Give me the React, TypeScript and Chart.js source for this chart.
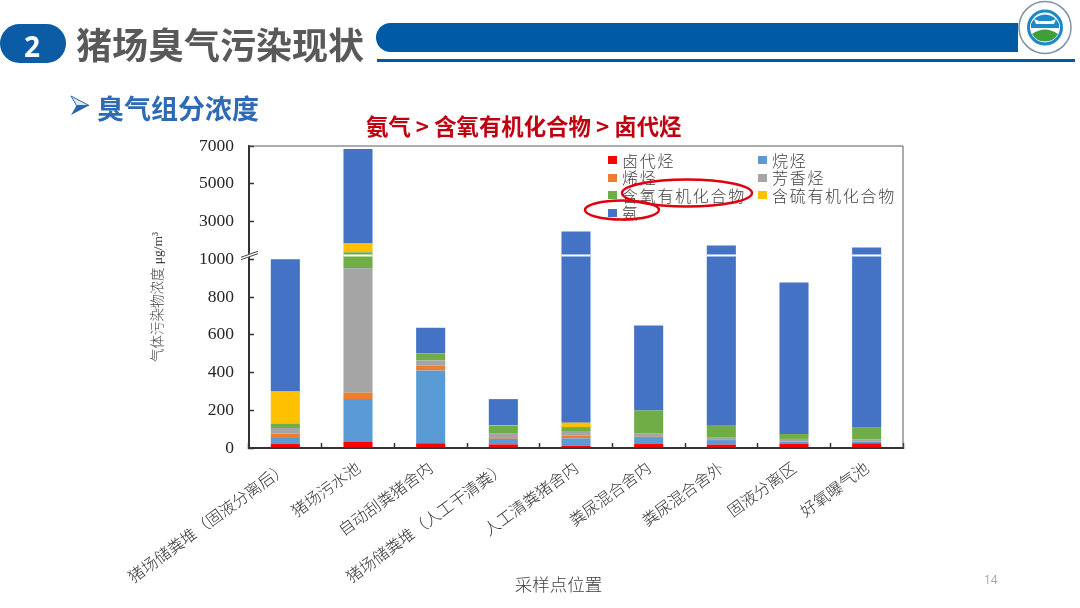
import { useEffect, useRef } from 'react';
import { Chart, LinearScale, registerables } from 'chart.js';

const categories = [
  '猪场储粪堆（固液分离后）',
  '猪场污水池',
  '自动刮粪猪舍内',
  '猪场储粪堆（人工干清粪）',
  '人工清粪猪舍内',
  '粪尿混合舍内',
  '粪尿混合舍外',
  '固液分离区',
  '好氧曝气池',
];

const halogenated = [21, 32, 25, 19, 12, 21, 18, 23, 25];
const alkanes = [32, 227, 386, 30, 39, 37, 24, 10, 7];
const alkenes = [23, 34, 25, 4, 14, 1, 1, 1, 1];
const aromatics = [30, 659, 28, 26, 25, 17, 15, 14, 13];
const oxygenated = [23, 418, 37, 39, 21, 123, 64, 26, 65];
const sulfurous = [171, 459, 0, 2, 23, 0, 0, 0, 0];
const ammonia = [700, 5009, 136, 139, 2330, 450, 1601, 803, 1506];

const seriesNames = ['卤代烃', '烷烃', '烯烃', '芳香烃', '含氧有机化合物', '含硫有机化合物', '氨'];
const seriesValues = [halogenated, alkanes, alkenes, aromatics, oxygenated, sulfurous, ammonia];
const seriesColors = ['#FF0000', '#5B9BD5', '#ED7D31', '#A5A5A5', '#70AD47', '#FFC000', '#4472C4'];

const yTicks = [0, 200, 400, 600, 800, 1000, 3000, 5000, 7000];

const AXIS_KNEE = 1000;
const UPPER_COMPRESSION = 10;
const BREAK_VALUE = 1200;

const CJK = '"Noto Sans CJK SC", sans-serif';
const SERIF_CJK = '"Liberation Serif", "Noto Sans CJK SC", serif';

// linear up to the knee, then 10x compressed, like the cut axis in the slide
class BrokenScale extends LinearScale {
  static id = 'broken';
  static defaults = LinearScale.defaults;

  buildTicks() {
    super.buildTicks();
    return yTicks.map(value => ({ value }));
  }

  compress(v: number) {
    return v <= AXIS_KNEE ? v : AXIS_KNEE + (v - AXIS_KNEE) / UPPER_COMPRESSION;
  }

  getPixelForValue(v: number) {
    const frac = this.compress(v) / this.compress(this.max);
    return this.bottom - frac * (this.bottom - this.top);
  }

  getValueForPixel(px: number) {
    const c = ((this.bottom - px) / (this.bottom - this.top)) * this.compress(this.max);
    return c <= AXIS_KNEE ? c : AXIS_KNEE + (c - AXIS_KNEE) * UPPER_COMPRESSION;
  }
}

Chart.register(...registerables, BrokenScale);

const framePlugin = {
  id: 'frame',
  beforeDatasetsDraw(chart: Chart) {
    const { ctx, chartArea: a } = chart;
    ctx.save();
    ctx.strokeStyle = '#595959';
    ctx.lineWidth = 1;
    ctx.beginPath();
    ctx.moveTo(a.left, a.top);
    ctx.lineTo(a.right, a.top);
    ctx.lineTo(a.right, a.bottom);
    ctx.stroke();
    ctx.restore();
  },
};

const axisBreakPlugin = {
  id: 'axisBreak',
  afterDatasetsDraw(chart: Chart) {
    const { ctx, chartArea: a } = chart;
    const y = chart.scales.y.getPixelForValue(BREAK_VALUE);
    const meta = chart.getDatasetMeta(seriesValues.length - 1);
    ctx.save();
    ctx.strokeStyle = '#fff';
    ctx.lineWidth = 2;
    categories.forEach((_, i) => {
      const total = seriesValues.reduce((sum, s) => sum + s[i], 0);
      if (total <= BREAK_VALUE) return;
      const bar = meta.data[i] as any;
      ctx.beginPath();
      ctx.moveTo(bar.x - bar.width / 2, y);
      ctx.lineTo(bar.x + bar.width / 2, y);
      ctx.stroke();
    });
    // cut mark on the value axis
    ctx.lineWidth = 3;
    ctx.beginPath();
    ctx.moveTo(a.left - 3, y + 1);
    ctx.lineTo(a.left + 3, y - 1);
    ctx.stroke();
    ctx.strokeStyle = '#404040';
    ctx.lineWidth = 1;
    [-1.2, 1.2].forEach(d => {
      ctx.beginPath();
      ctx.moveTo(a.left - 8, y + 3 + d);
      ctx.lineTo(a.left + 9, y - 3 + d);
      ctx.stroke();
    });
    ctx.restore();
  },
};

function StackedChart() {
  const canvasRef = useRef<HTMLCanvasElement>(null);

  useEffect(() => {
    if (!canvasRef.current) return;
    const chart = new Chart(canvasRef.current, {
      type: 'bar',
      data: {
        labels: categories,
        datasets: seriesNames.map((name, i) => ({
          label: name,
          data: seriesValues[i],
          backgroundColor: seriesColors[i],
          barPercentage: 1,
          categoryPercentage: 0.4,
        })),
      },
      options: {
        responsive: false,
        animation: false,
        layout: { padding: { left: 0, top: 146, right: 177, bottom: 0 } },
        plugins: { legend: { display: false }, tooltip: { enabled: false } },
        scales: {
          x: {
            stacked: true,
            afterFit: (s: any) => { s.height = 160; },
            grid: { drawOnChartArea: false, tickLength: -5, tickColor: '#333', tickWidth: 1.5 },
            border: { color: '#333', width: 2 },
            ticks: {
              autoSkip: false,
              minRotation: 36,
              maxRotation: 36,
              padding: 15,
              color: '#333',
              font: { family: CJK, size: 16, weight: '300' },
            },
            title: {
              display: true,
              // the slide's axis title sits left of the plot centre
              text: '采样点位置\u3000\u3000',
              color: '#404040',
              padding: { top: 0, bottom: 13 },
              font: { family: CJK, size: 17.5, weight: '300' },
            },
          },
          y: {
            type: 'broken',
            stacked: true,
            min: 0,
            max: 7000,
            afterFit: (s: any) => { s.width = 249; },
            grid: { drawOnChartArea: false, tickLength: -5, tickColor: '#333', tickWidth: 1.5 },
            border: { color: '#333', width: 2 },
            ticks: {
              autoSkip: false,
              padding: 20,
              color: '#262626',
              font: { family: '"Liberation Serif", serif', size: 17.5 },
              callback: (v: any) => String(v),
            },
            title: {
              display: true,
              text: '气体污染物浓度 μg/m³',
              color: '#404040',
              padding: { top: 150, bottom: 0 },
              font: { family: SERIF_CJK, size: 13.5, weight: '300' },
            },
          },
        },
      } as any,
      plugins: [framePlugin, axisBreakPlugin],
    });
    return () => chart.destroy();
  }, []);

  return <canvas ref={canvasRef} width={1080} height={608} style={{ position: 'absolute', left: 0, top: 0 }} />;
}

function Legend() {
  return (
    <div style={{ position: 'absolute', left: 608, top: 151.5, display: 'grid', gridTemplateColumns: '150px 150px', gridAutoRows: '17.5px' }}>
      {seriesNames.map((name, i) => (
        <div key={name} style={{ display: 'flex', alignItems: 'center', whiteSpace: 'nowrap', fontFamily: CJK, fontWeight: 300, fontSize: 16, letterSpacing: 1.7, color: '#404040', lineHeight: '17px' }}>
          <span style={{ width: 9, height: 8, background: seriesColors[i], marginRight: 5, flex: 'none' }} />
          {name}
        </div>
      ))}
    </div>
  );
}

function SlideChrome() {
  const blue = '#005BA4';
  return (
    <>
      <div style={{ position: 'absolute', left: 0, top: 24, width: 66, height: 39, borderRadius: 19.5, background: '#0B5CA5' }} />
      <div style={{ position: 'absolute', left: 21, top: 24, width: 22, textAlign: 'center', lineHeight: '44px', color: '#fff', fontFamily: '"Open Sans", sans-serif', fontWeight: 700, fontSize: 28 }}>2</div>
      <div style={{ position: 'absolute', left: 76, top: 21, lineHeight: '44px', fontFamily: CJK, fontWeight: 700, fontSize: 36, color: '#595959', whiteSpace: 'nowrap' }}>猪场臭气污染现状</div>
      <div style={{ position: 'absolute', left: 376, top: 23, width: 642, height: 29, borderRadius: '14.5px 0 0 14.5px', background: blue }} />
      <div style={{ position: 'absolute', left: 377, top: 59, width: 698, height: 3, background: blue }} />
      <svg width={1080} height={130} style={{ position: 'absolute', left: 0, top: 0 }}>
        <circle cx={1045} cy={27.5} r={26} fill="#fff" stroke="#7C93A8" strokeWidth={1.5} />
        <circle cx={1045} cy={27.5} r={16.5} fill="#fff" stroke="#1C8AC9" strokeWidth={3} />
        <path d="M1031 24 A15 15 0 0 1 1059 24 L1059 28 L1031 28 Z" fill="#1C8AC9" />
        <path d="M1036 24 L1054 24 L1056 19 L1051 21 L1039 21 L1034 19 Z" fill="#fff" />
        <path d="M1032 34 Q1045 25 1058 34 A15 15 0 0 1 1032 34 Z" fill="#3E9E3A" />
        <path d="M71 96 L89 105.5 L76.5 105.5 Z" fill="#DCE7F4" stroke="#2A66AD" strokeWidth={1} />
        <path d="M71 115 L89 105.5 L76.5 105.5 Z" fill="#2A66AD" />
      </svg>
      <div style={{ position: 'absolute', left: 97, top: 92, lineHeight: '32px', fontFamily: CJK, fontWeight: 700, fontSize: 27, color: '#2E6BB4', whiteSpace: 'nowrap' }}>臭气组分浓度</div>
      <div style={{ position: 'absolute', left: 366, top: 110, lineHeight: '30px', fontFamily: CJK, fontWeight: 700, fontSize: 22.4, color: '#C00010', whiteSpace: 'nowrap' }}>氨气 &gt; 含氧有机化合物 &gt; 卤代烃</div>
      <div style={{ position: 'absolute', left: 984, top: 572, lineHeight: '16px', fontFamily: '"Open Sans", sans-serif', fontSize: 12, color: '#A6A6A6' }}>14</div>
    </>
  );
}

export default function App() {
  return (
    <div style={{ position: 'absolute', left: 0, top: 0, width: 1080, height: 608, overflow: 'hidden', background: '#fff' }}>
      <StackedChart />
      <SlideChrome />
      <Legend />
      <svg width={1080} height={608} style={{ position: 'absolute', left: 0, top: 0, pointerEvents: 'none' }}>
        <ellipse cx={687} cy={193} rx={65} ry={13.5} fill="none" stroke="#E00012" strokeWidth={2.5} />
        <ellipse cx={622} cy={210} rx={37} ry={9.5} fill="none" stroke="#E00012" strokeWidth={2.5} />
      </svg>
    </div>
  );
}
